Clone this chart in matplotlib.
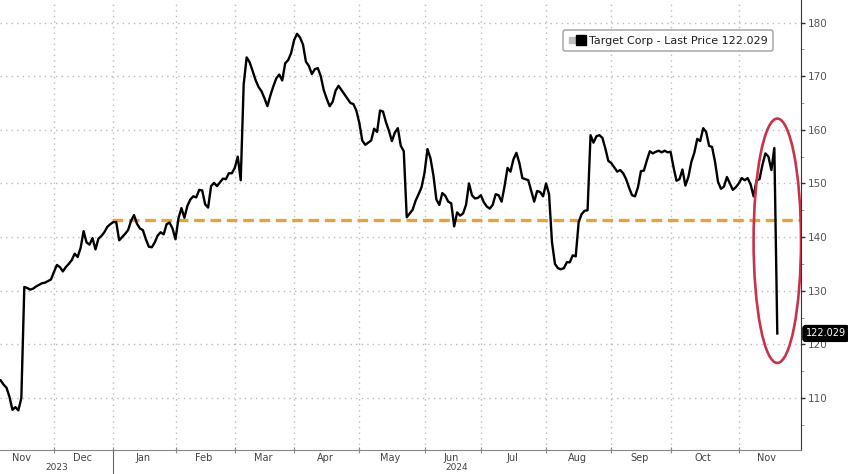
import numpy as np
import matplotlib
matplotlib.use("Agg")
import matplotlib.pyplot as plt
import matplotlib.transforms as mtransforms
from matplotlib.patches import Ellipse
from matplotlib.lines import Line2D
from matplotlib.legend_handler import HandlerTuple

# Target Corp daily closes, one value per trading day
nov23 = [113.5, 113.3, 112.5, 111.9, 110.2, 107.8, 108.3, 107.7, 110.0, 130.7,
         130.5, 130.2, 130.4, 130.8, 131.1, 131.4, 131.5, 131.8, 132.1]
dec23 = [133.5, 134.8, 134.4, 133.6, 134.4, 135.0, 135.7, 136.9, 136.3, 138.0,
         141.1, 139.0, 138.6, 139.8, 137.7, 139.7, 140.2, 140.9, 141.9, 142.4]
jan24 = [142.8, 142.8, 139.4, 140.0, 140.6, 141.3, 143.0, 144.1, 142.5, 141.6,
         141.3, 139.6, 138.2, 138.1, 139.0, 140.3, 140.9, 140.5, 142.4, 142.7, 141.6]
feb24 = [139.6, 143.5, 145.4, 143.6, 145.8, 147.0, 147.6, 147.4, 148.8, 148.7,
         146.1, 145.5, 149.5, 150.1, 149.5, 150.2, 150.9, 150.8, 151.9, 151.9]
mar24 = [152.9, 155.0, 150.6, 168.5, 173.5, 172.6, 171.0, 169.3, 168.0, 167.2,
         165.9, 164.4, 166.4, 168.1, 169.6, 170.3, 169.2, 172.4, 173.0, 174.3]
apr24 = [176.7, 177.9, 177.2, 175.9, 172.7, 171.9, 170.4, 171.3, 171.5, 170.0,
         167.4, 165.8, 164.4, 165.2, 167.3, 168.2, 167.4, 166.6, 165.8, 165.0, 164.8, 163.6]
may24 = [161.3, 158.0, 157.2, 157.6, 158.0, 160.2, 159.6, 163.6, 163.4, 161.4,
         159.8, 157.9, 159.5, 160.3, 157.0, 156.0, 143.7, 144.4, 145.1, 146.8, 148.0, 149.3]
jun24 = [152.0, 156.4, 154.7, 151.5, 147.0, 146.0, 148.2, 147.7, 146.6, 146.3,
         142.0, 144.6, 144.0, 144.4, 146.0, 150.0, 147.8, 147.2, 147.3]
jul24 = [147.8, 146.5, 145.7, 145.3, 146.0, 148.0, 147.8, 146.6, 149.5, 152.9,
         152.2, 154.5, 155.7, 153.8, 151.0, 150.8, 150.6, 148.6, 146.6, 148.6, 148.4, 147.6]
aug24 = [150.0, 148.0, 139.0, 135.0, 134.2, 134.0, 134.2, 135.3, 135.3, 136.6,
         136.4, 142.8, 144.3, 144.9, 145.0, 159.0, 157.6, 158.8, 159.0, 158.5, 156.5, 154.2]
sep24 = [153.8, 153.0, 152.2, 152.5, 151.9, 150.8, 149.2, 147.8, 147.6, 149.3,
         152.3, 152.4, 154.3, 156.0, 155.6, 155.9, 156.1, 155.8, 156.1, 155.8]
oct24 = [155.9, 153.0, 150.5, 150.8, 152.6, 149.6, 151.2, 154.0, 155.7, 158.3,
         157.9, 160.3, 159.6, 157.0, 156.8, 154.0, 150.3, 149.0, 149.4, 151.2, 150.0, 148.8, 149.3]
nov24 = [150.0, 151.0, 150.6, 151.0, 149.8, 147.6, 150.6, 150.8, 153.5, 155.6,
         155.0, 152.5, 156.6, 122.029]

months = [nov23, dec23, jan24, feb24, mar24, apr24, may24, jun24, jul24, aug24, sep24, oct24, nov24]
month_labels = ["Nov", "Dec", "Jan", "Feb", "Mar", "Apr", "May", "Jun", "Jul", "Aug", "Sep", "Oct", "Nov"]
# full trading days in each month (used to centre the month labels)
month_full_days = [21, 20, 21, 20, 20, 22, 22, 19, 22, 22, 20, 23, 20]
year_labels = ["2023", "2024"]
ref_level = 143.2          # orange dashed level
last_price = 122.029
series_name = "Target Corp - Last Price"

prices = np.concatenate(months)
days = np.arange(len(prices))

month_starts = np.cumsum([0] + [len(m) for m in months[:-1]])
month_starts[0] = len(nov23) - month_full_days[0]
label_pos = month_starts + np.array(month_full_days) / 2 - 0.5
boundaries = month_starts[1:]
jan_idx = boundaries[1]

fig = plt.figure(figsize=(8.48, 4.74), dpi=100)
ax = fig.add_axes([0.0, 0.0506, 0.9446, 0.9494])

x_left, x_right = 0.8, len(prices) + 7
ax.set_xlim(x_left, x_right)
ax.set_ylim(100.3, 184.2)

grid_kw = dict(color="#bcbcbc", linestyle=(0, (1, 3)), linewidth=1.0, zorder=0)
for b in boundaries:
    ax.axvline(b, **grid_kw)
for v in range(110, 181, 10):
    ax.axhline(v, **grid_kw)

ax.plot(days, prices, color="black", linewidth=1.7, zorder=3)

ax.plot([jan_idx - 0.5, x_right], [ref_level, ref_level], color="#e9a23b",
        linewidth=2.4, dashes=(3.2, 1.7), zorder=2)

# red ellipse around the final drop
last_i = days[-1]
top = prices[-2]
ell = Ellipse((last_i, (top + last_price) / 2), width=16, height=(top - last_price) + 11,
              fill=False, edgecolor="#c8334a", linewidth=1.9, zorder=4)
ax.add_patch(ell)

# axes styling
for s in ["left", "top"]:
    ax.spines[s].set_visible(False)
ax.spines["right"].set_color("#333333")
ax.spines["bottom"].set_color("#888888")
ax.spines["bottom"].set_linestyle((0, (2, 1)))

ax.yaxis.tick_right()
ax.set_yticks(range(110, 181, 10))
ax.set_yticks(range(105, 184, 5), minor=True)
ax.tick_params(axis="y", which="major", length=3, width=1, color="#333333",
               labelsize=7.5, labelcolor="#555555", pad=2)
ax.tick_params(axis="y", which="minor", length=2, color="#888888")

ax.set_xticks(boundaries)
ax.set_xticklabels([])
ax.tick_params(axis="x", which="major", direction="inout", length=4, color="#888888")
ax.set_xticks(label_pos, minor=True)
ax.set_xticklabels(month_labels, minor=True)
ax.tick_params(axis="x", which="minor", length=0, labelsize=7, labelcolor="#444444", pad=2)

# year labels and separator
trans = mtransforms.blended_transform_factory(ax.transData, ax.transAxes)
ax.text((x_left + jan_idx) / 2, -0.039, year_labels[0], transform=trans, ha="center",
        va="center", fontsize=6.5, color="#444444")
ax.text((jan_idx + x_right) / 2, -0.039, year_labels[1], transform=trans, ha="center",
        va="center", fontsize=6.5, color="#444444")
ax.plot([jan_idx, jan_idx], [0, -0.06], transform=trans, color="#666666",
        linewidth=0.8, clip_on=False)

# last price tag
trans_y = mtransforms.blended_transform_factory(ax.transAxes, ax.transData)
ax.text(1.006, last_price, f"{last_price:.3f}", transform=trans_y, ha="left", va="center",
        fontsize=7, color="white",
        bbox=dict(boxstyle="round,pad=0.3", fc="black", ec="black"), zorder=6, clip_on=False)

# legend
grey_sq = Line2D([], [], marker="s", color="#bdbdbd", markersize=4, linestyle="none")
black_sq = Line2D([], [], marker="s", color="black", markersize=7, linestyle="none")
leg = ax.legend(handles=[(grey_sq, black_sq)], labels=[f"{series_name} {last_price:.3f}"],
                handler_map={tuple: HandlerTuple(ndivide=None, pad=0.1)},
                loc="upper right", bbox_to_anchor=(0.972, 0.945), fontsize=8,
                frameon=True, fancybox=True, handlelength=1.4, handletextpad=0.4,
                borderpad=0.5, labelcolor="#222222")
leg.get_frame().set_edgecolor("#999999")
leg.get_frame().set_linewidth(1.2)

fig.savefig("out.png", dpi=100, facecolor="white")
